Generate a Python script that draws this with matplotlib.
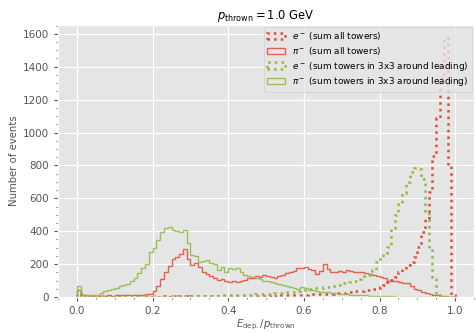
import numpy as np
import matplotlib
matplotlib.use("Agg")
import matplotlib.pyplot as plt

plt.style.use("ggplot")

# bin contents, 100 bins from 0 to 1 in E_dep / p_thrown
e_all = [18, 6, 3, 2, 3, 2, 2, 3, 2, 2,
         2, 3, 2, 2, 3, 2, 3, 3, 2, 3,
         3, 3, 4, 3, 3, 4, 3, 4, 4, 3,
         4, 4, 5, 4, 5, 5, 4, 5, 6, 5,
         6, 5, 6, 7, 6, 7, 8, 7, 8, 9,
         9, 10, 9, 11, 12, 11, 13, 12, 14, 15,
         14, 16, 17, 16, 18, 20, 19, 21, 22, 24,
         25, 28, 32, 34, 36, 38, 42, 44, 48, 53,
         60, 73, 90, 105, 123, 150, 170, 194, 215, 244,
         305, 395, 480, 640, 860, 1090, 1330, 1575, 800, 12]

pi_all = [40, 15, 10, 8, 7, 8, 9, 8, 10, 9,
          10, 11, 10, 12, 13, 12, 14, 15, 16, 20,
          35, 70, 110, 150, 190, 230, 245, 260, 290, 230,
          195, 205, 180, 155, 140, 125, 115, 105, 112, 95,
          93, 95, 90, 98, 105, 113, 118, 125, 122, 133,
          128, 120, 115, 125, 135, 148, 150, 160, 175, 178,
          180, 170, 165, 143, 160, 200, 170, 155, 150, 160,
          155, 165, 160, 150, 155, 150, 145, 140, 135, 130,
          120, 113, 100, 95, 98, 90, 85, 83, 70, 50,
          40, 28, 22, 18, 14, 10, 8, 5, 3, 1]

e_3x3 = [22, 8, 4, 3, 3, 3, 4, 3, 3, 3,
         3, 4, 3, 3, 4, 3, 4, 3, 4, 4,
         4, 3, 4, 4, 4, 5, 4, 4, 5, 5,
         5, 5, 6, 6, 7, 7, 8, 8, 9, 10,
         10, 11, 12, 12, 13, 14, 15, 16, 17, 18,
         20, 21, 22, 24, 26, 28, 30, 33, 36, 40,
         45, 48, 50, 53, 56, 58, 62, 66, 70, 76,
         83, 87, 93, 100, 107, 115, 125, 135, 165, 214,
         244, 265, 305, 420, 500, 565, 635, 700, 760, 786,
         776, 720, 520, 300, 120, 14, 3, 1, 0, 0]

pi_3x3 = [65, 15, 12, 10, 12, 15, 25, 35, 42, 50,
          56, 65, 73, 80, 95, 113, 145, 175, 200, 275,
          300, 345, 395, 420, 425, 410, 400, 395, 410, 330,
          255, 250, 215, 220, 225, 205, 200, 165, 185, 155,
          175, 170, 175, 155, 135, 130, 123, 115, 107, 100,
          95, 93, 85, 80, 73, 68, 62, 53, 50, 60,
          55, 45, 42, 38, 32, 30, 28, 25, 22, 20,
          18, 16, 15, 13, 12, 11, 10, 9, 8, 7,
          6, 5, 5, 4, 3, 3, 2, 2, 1, 1,
          1, 1, 0, 0, 0, 0, 0, 0, 0, 0]

edges = np.linspace(0, 1, 101)
centers = 0.5 * (edges[:-1] + edges[1:])

red = "#E24A33"
green = "#8EBA42"

fig = plt.figure(figsize=(4.76, 3.33), dpi=100)
ax = fig.add_axes([0.122, 0.108, 0.874, 0.817])

ax.hist(centers, bins=edges, weights=e_all, histtype="step", color=red,
        ls=":", lw=1.8, label=r"$e^-$ (sum all towers)")
ax.hist(centers, bins=edges, weights=pi_all, histtype="step", color=red,
        lw=1.0, alpha=0.85, label=r"$\pi^-$ (sum all towers)")
ax.hist(centers, bins=edges, weights=e_3x3, histtype="step", color=green,
        ls=":", lw=1.8, label=r"$e^-$ (sum towers in 3x3 around leading)")
ax.hist(centers, bins=edges, weights=pi_3x3, histtype="step", color=green,
        lw=1.0, alpha=0.85, label=r"$\pi^-$ (sum towers in 3x3 around leading)")

ax.minorticks_on()
ax.grid(which="minor", visible=False)
ax.tick_params(labelsize=7.5, length=3)
ax.tick_params(which="minor", length=1.5)
ax.set_xticks([0.0, 0.2, 0.4, 0.6, 0.8, 1.0])
ax.set_title(r"$p_\mathrm{thrown} = 1.0$ GeV", fontsize=8.3, pad=4)
ax.set_xlabel(r"$E_\mathrm{dep.}/p_\mathrm{thrown}$", fontsize=7.3, labelpad=1)
ax.set_ylabel("Number of events", fontsize=7.3, labelpad=3)
ax.legend(loc="upper right", fontsize=6.4, borderaxespad=0.2,
          handlelength=2.0, labelspacing=0.3)

fig.savefig("out.png", dpi=100)
